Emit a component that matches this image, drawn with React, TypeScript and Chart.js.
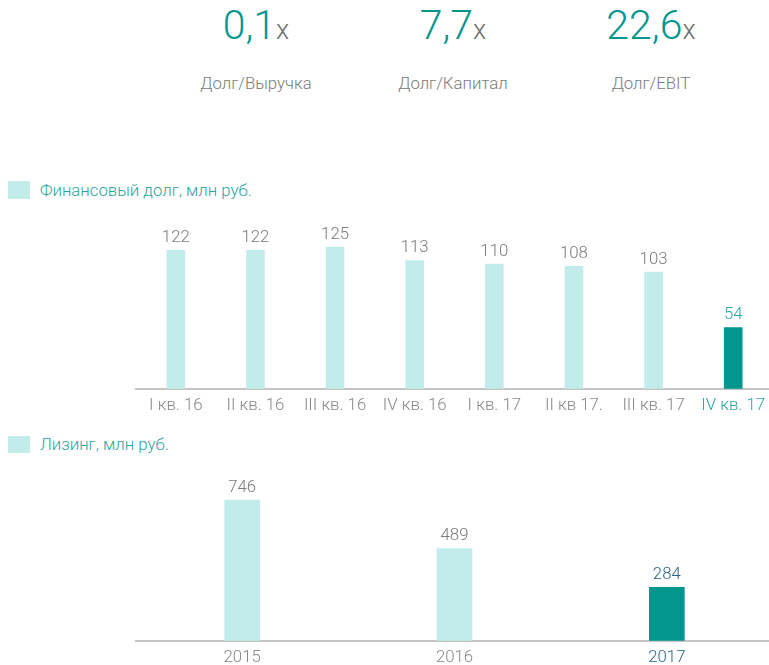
import React, { useEffect, useRef } from "react";
import { Chart, registerables } from "chart.js";

Chart.register(...registerables);

const kpiValues = ["0,1", "7,7", "22,6"];
const kpiLabels = ["Долг/Выручка", "Долг/Капитал", "Долг/EBIT"];

const debtLegend = "Финансовый долг, млн руб.";
const debtCategories = ["I кв. 16", "II кв. 16", "III кв. 16", "IV кв. 16", "I кв. 17", "II кв 17.", "III кв. 17", "IV кв. 17"];
const debtValues = [122, 122, 125, 113, 110, 108, 103, 54];

const leaseLegend = "Лизинг, млн руб.";
const leaseCategories = ["2015", "2016", "2017"];
const leaseValues = [746, 489, 284];

const LIGHT = "#c2ecea";
const DARK = "#03968f";
const TEAL_TEXT = "#2aa5a0";
const BLUE_TEXT = "#2b6688";
const GRAY_TEXT = "#7a7a7a";
const AXIS_TEXT = "#888888";
const FONT = "Roboto";
const FS = 16.8;

const valueLabelPlugin = {
  id: "valueLabels",
  afterDatasetsDraw(chart: any, _args: any, opts: any) {
    const { ctx } = chart;
    const meta = chart.getDatasetMeta(0);
    const data = chart.data.datasets[0].data;
    ctx.save();
    ctx.font = `300 ${opts.size || FS}px ${FONT}`;
    ctx.textAlign = "center";
    ctx.textBaseline = "bottom";
    meta.data.forEach((bar: any, i: number) => {
      ctx.fillStyle = (opts.colors && opts.colors[i]) || GRAY_TEXT;
      ctx.fillText(String(data[i]), bar.x, bar.y - (opts.gap || 5));
    });
    ctx.restore();
  },
};

function BarChart(props: {
  labels: string[];
  values: number[];
  colors: string[];
  labelColors: string[];
  tickColors: string[];
  max: number;
  thickness: number;
  top: number;
  height: number;
  padTop: number;
}) {
  const ref = useRef<HTMLCanvasElement>(null);
  useEffect(() => {
    if (!ref.current) return;
    const chart = new Chart(ref.current, {
      type: "bar",
      data: {
        labels: props.labels,
        datasets: [
          {
            data: props.values,
            backgroundColor: props.colors,
            barThickness: props.thickness,
            borderWidth: 0,
          },
        ],
      },
      options: {
        animation: false,
        responsive: false,
        maintainAspectRatio: false,
        layout: { padding: { top: props.padTop, left: 136, right: 0, bottom: 0 } },
        plugins: {
          legend: { display: false },
          tooltip: { enabled: false },
          valueLabels: { colors: props.labelColors, size: FS, gap: 4 },
        } as any,
        scales: {
          x: {
            grid: { display: false, drawTicks: false },
            border: { display: true, color: "#c4c4c4", width: 2 },
            ticks: {
              padding: 7,
              font: { family: FONT, size: FS, weight: 300 as any },
              color: (c: any) => props.tickColors[c.index] || AXIS_TEXT,
              maxRotation: 0,
              autoSkip: false,
            },
          },
          y: {
            display: false,
            min: 0,
            max: props.max,
          },
        },
      },
      plugins: [valueLabelPlugin],
    });
    return () => chart.destroy();
  }, []);
  return (
    <canvas
      ref={ref}
      width={773}
      height={props.height}
      style={{ position: "absolute", left: 0, top: props.top, width: 773, height: props.height }}
    />
  );
}

const kpiCenters = [256, 453, 651];

export default function App() {
  return (
    <div
      style={{
        position: "absolute",
        left: 0,
        top: 0,
        width: 769,
        height: 665,
        overflow: "hidden",
        background: "#ffffff",
        fontFamily: FONT,
        fontWeight: 300,
      }}
    >
      {kpiValues.map((v, i) => (
        <div
          key={"v" + i}
          style={{
            position: "absolute",
            left: kpiCenters[i] - 100,
            width: 200,
            top: 2,
            textAlign: "center",
            color: DARK,
            fontSize: 41,
            lineHeight: "46px",
          }}
        >
          {v}
          <span style={{ color: "#6f6f6f", fontSize: 27 }}>x</span>
        </div>
      ))}
      {kpiLabels.map((l, i) => (
        <div
          key={"l" + i}
          style={{
            position: "absolute",
            left: kpiCenters[i] - 100,
            width: 200,
            top: 73,
            textAlign: "center",
            color: GRAY_TEXT,
            fontSize: FS,
            lineHeight: "20px",
          }}
        >
          {l}
        </div>
      ))}

      <div style={{ position: "absolute", left: 8, top: 181, width: 22, height: 18, background: LIGHT }} />
      <div style={{ position: "absolute", left: 40, top: 180, color: TEAL_TEXT, fontSize: FS, lineHeight: "20px" }}>
        {debtLegend}
      </div>
      <BarChart
        labels={debtCategories}
        values={debtValues}
        colors={debtValues.map((_, i) => (i === debtValues.length - 1 ? DARK : LIGHT))}
        labelColors={debtValues.map((_, i) => (i === debtValues.length - 1 ? TEAL_TEXT : GRAY_TEXT))}
        tickColors={debtCategories.map((_, i) => (i === debtCategories.length - 1 ? TEAL_TEXT : AXIS_TEXT))}
        max={140}
        thickness={18}
        top={210}
        height={213}
        padTop={20}
      />

      <div style={{ position: "absolute", left: 8, top: 436, width: 22, height: 17, background: LIGHT }} />
      <div style={{ position: "absolute", left: 40, top: 434, color: TEAL_TEXT, fontSize: FS, lineHeight: "20px" }}>
        {leaseLegend}
      </div>
      <BarChart
        labels={leaseCategories}
        values={leaseValues}
        colors={leaseValues.map((_, i) => (i === leaseValues.length - 1 ? DARK : LIGHT))}
        labelColors={leaseValues.map((_, i) => (i === leaseValues.length - 1 ? BLUE_TEXT : GRAY_TEXT))}
        tickColors={leaseCategories.map((_, i) => (i === leaseCategories.length - 1 ? BLUE_TEXT : AXIS_TEXT))}
        max={800}
        thickness={35}
        top={465}
        height={210}
        padTop={25}
      />
    </div>
  );
}
